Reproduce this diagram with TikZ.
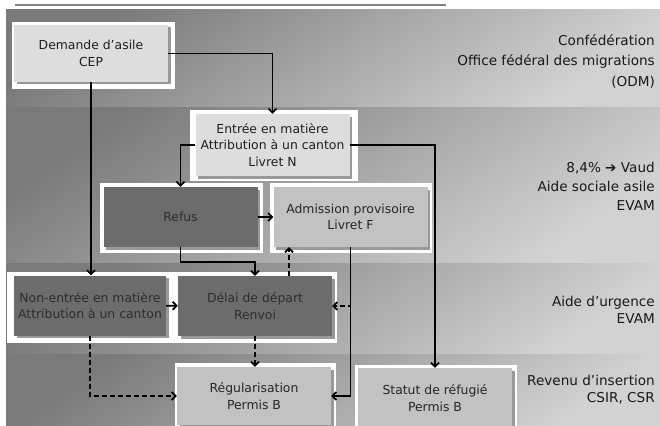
\documentclass[tikz,border=0pt]{standalone}
\usepackage{fontspec}
\setmainfont{DejaVu Sans}
\usetikzlibrary{arrows.meta,shadows}
\definecolor{boxlight}{HTML}{DDDDDD}
\definecolor{boxmid}{HTML}{C2C2C2}
\definecolor{boxdark}{HTML}{6C6C6C}
\definecolor{bandtop}{HTML}{7A7A7A}
\definecolor{bandbot}{HTML}{D2D2D2}
\tikzset{
  band/.style={top color=bandtop, bottom color=bandbot, shading angle=35},
  whiteframe/.style={fill=white},
  box/.style={minimum width=154pt, minimum height=60pt, align=center, inner sep=0pt,
    font=\fontsize{12.4}{16.5}\selectfont,
    drop shadow={shadow xshift=2.5pt, shadow yshift=-2.5pt, fill=black!40, opacity=1}},
  lightbox/.style={box, fill=boxlight, text=black!88},
  midbox/.style={box, fill=boxmid, text=black!85},
  darkbox/.style={box, fill=boxdark, text=black!82},
  bandlabel/.style={anchor=east, align=right, inner sep=0pt, text=black!90},
  link/.style={line width=1.7pt, -{Straight Barb[length=4pt,width=8pt]}},
  dlink/.style={link, dash pattern=on 5pt off 3pt},
}
\begin{document}
\begin{tikzpicture}[x=1pt,y=-1pt]
  \clip (0,0) rectangle (660,425);
  \fill[white] (0,0) rectangle (660,425);
  \draw[black!50, line width=1.3pt] (15,5) -- (446,5);
  \shade[band] (6,10) rectangle (660,107);
  \shade[band] (6,107) rectangle (660,263);
  \shade[band] (6,263) rectangle (660,354);
  \shade[band] (6,354) rectangle (660,430);
  \fill[whiteframe] (12,22) rectangle (175,89);
  \fill[whiteframe] (190,110) rectangle (358,181);
  \fill[whiteframe] (100,183) rectangle (263,253);
  \fill[whiteframe] (270,183) rectangle (432,253);
  \fill[whiteframe] (7,272) rectangle (337,343);
  \fill[whiteframe] (175,363) rectangle (336,430);
  \fill[whiteframe] (355,365) rectangle (517,430);
  \node[lightbox, minimum height=57pt] (demande) at (91,53.5) {Demande d’asile\\CEP};
  \node[lightbox, minimum height=62pt] (entree) at (272.5,145) {Entrée en matière\\Attribution à un canton\\Livret N};
  \node[darkbox] (refus) at (180.5,217) {Refus};
  \node[midbox] (admission) at (350.5,217) {Admission provisoire\\Livret F};
  \node[darkbox, minimum width=152pt] (nonentree) at (90,305.5) {Non-entrée en matière\\Attribution à un canton};
  \node[darkbox] (delai) at (255,306) {Délai de départ\\Renvoi};
  \node[midbox, minimum height=58pt] (regul) at (254,396) {Régularisation\\Permis B};
  \node[midbox] (statut) at (435,398) {Statut de réfugié\\Permis B};
  \node[bandlabel, font=\fontsize{13.6}{20.5}\selectfont] (conf) at (655,61) {Confédération\\Office fédéral des migrations\\(ODM)};
  \node[bandlabel, font=\fontsize{13.6}{19}\selectfont] (vaud) at (655,186) {8,4\% ➔ Vaud\\Aide sociale asile\\EVAM};
  \node[bandlabel, font=\fontsize{13.6}{17}\selectfont] (urgence) at (655,310) {Aide d’urgence\\EVAM};
  \node[bandlabel, font=\fontsize{13.6}{17}\selectfont] (revenu) at (655,390) {Revenu d’insertion\\CSIR, CSR};
  \begin{scope}[link]
    \draw (demande.east) -| (entree.north);
    \draw (demande.south) -- (demande.south |- nonentree.north);
    \draw (entree.west) -| (refus.north);
    \draw (entree.east) -| (statut.north);
    \draw (refus) -- (admission);
    \draw (refus.south) -- ++(0,15) -| (delai.north);
    \draw (nonentree) -- (delai);
    \draw (admission.south) |- (regul.east);
  \end{scope}
  \begin{scope}[dlink]
    \draw ([xshift=34pt]delai.north) -- ([xshift=34pt]delai.north |- admission.south);
    \draw (admission.south) |- (delai.east);
    \draw (nonentree.south) |- (regul.west);
    \draw (delai.south) -- (delai.south |- regul.north);
  \end{scope}
\end{tikzpicture}
\end{document}
